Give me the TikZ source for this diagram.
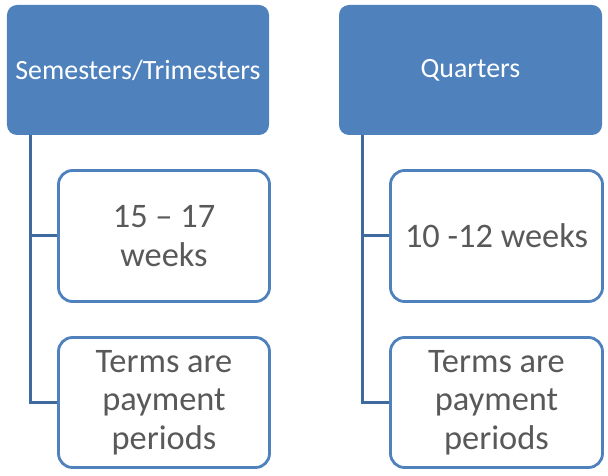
\documentclass[tikz,border=0pt]{standalone}
\usepackage{fontspec}
\setmainfont{Carlito}
\definecolor{hdrblue}{HTML}{4F81BD}
\definecolor{linkblue}{HTML}{3F6A9F}
\definecolor{txtgray}{HTML}{595959}
\begin{document}
\begin{tikzpicture}[x=1bp,y=-1bp,
  hdr/.style={fill=hdrblue,draw=none,rounded corners=10bp,text=white,
    font=\fontsize{28}{33}\selectfont,align=center,
    minimum width=262bp,minimum height=130bp,inner sep=0pt},
  child/.style={draw=hdrblue,fill=white,line width=2.8bp,rounded corners=14bp,
    text=txtgray,font=\fontsize{34.5}{38.5}\selectfont,align=center,
    minimum width=211bp,minimum height=131bp,inner sep=0pt},
  link/.style={draw=linkblue,line width=3bp}]
\useasboundingbox (0,0) rectangle (608,476);
\node[hdr] (h1) at (138,70) {Semesters/Trimesters};
\node[hdr,minimum width=263bp] (h2) at (470.5,70) {Quarters};
\node[child] (c1a) at (164,236) {15 – 17\\weeks};
\node[child,minimum height=130bp] (c1b) at (164,402.5) {Terms are\\payment\\periods};
\node[child,minimum width=212bp] (c2a) at (496.5,236) {10 -12 weeks};
\node[child,minimum width=212bp,minimum height=130bp] (c2b) at (496.5,402.5) {Terms are\\payment\\periods};
\draw[link] ([xshift=24bp]h1.south west) |- (c1a.west);
\draw[link] ([xshift=24bp]h1.south west) |- (c1b.west);
\draw[link] ([xshift=24bp]h2.south west) |- (c2a.west);
\draw[link] ([xshift=24bp]h2.south west) |- (c2b.west);
\end{tikzpicture}
\end{document}
